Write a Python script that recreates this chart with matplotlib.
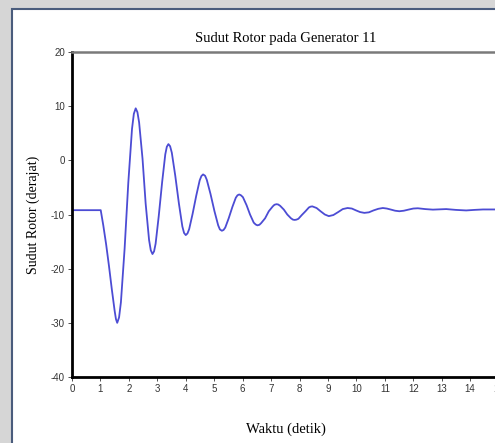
import matplotlib.pyplot as plt
from matplotlib.patches import Rectangle

# waktu (detik) dan sudut rotor (derajat)
waktu = [0, 1.01, 1.1, 1.2, 1.3, 1.4, 1.5, 1.545, 1.59, 1.655, 1.72, 1.85,
         1.98, 2.11, 2.175, 2.24, 2.30, 2.36, 2.48, 2.59, 2.71, 2.77, 2.83,
         2.886, 2.94, 3.05, 3.17, 3.28, 3.334, 3.39, 3.45, 3.51, 3.63, 3.76,
         3.88, 3.94, 4.0, 4.06, 4.12, 4.24, 4.37, 4.49, 4.55, 4.61, 4.68, 4.74,
         4.87, 5.01, 5.14, 5.20, 5.27, 5.33, 5.39, 5.51, 5.64, 5.76, 5.82, 5.88,
         5.94, 6.01, 6.14, 6.26, 6.39, 6.46, 6.52, 6.59, 6.65, 6.79, 6.92, 7.06,
         7.12, 7.19, 7.25, 7.32, 7.45, 7.57, 7.70, 7.77, 7.83, 7.89, 7.96, 8.08,
         8.21, 8.33, 8.39, 8.45, 8.6, 8.74, 8.89, 9.03, 9.19, 9.36, 9.52, 9.69,
         9.84, 9.99, 10.13, 10.28, 10.44, 10.6, 10.77, 10.93, 11.07, 11.22,
         11.36, 11.51, 11.67, 11.83, 12.0, 12.16, 12.42, 12.69, 12.92, 13.16,
         13.5, 13.86, 14.15, 14.45, 15.0]
sudut = [-9.2, -9.2, -12.0, -15.5, -19.5, -23.8, -27.8, -29.3, -30.0, -29.0,
         -26.2, -16.3, -4.1, 5.8, 8.6, 9.6, 8.9, 7.0, 0.3, -8.0, -14.7, -16.6,
         -17.3, -16.8, -15.4, -10.3, -4.0, 1.1, 2.5, 3.0, 2.6, 1.4, -2.8, -8.0,
         -12.2, -13.4, -13.8, -13.5, -12.7, -9.9, -6.5, -3.7, -2.9, -2.6, -2.85,
         -3.6, -6.2, -9.4, -12.0, -12.75, -13.0, -12.85, -12.4, -10.7, -8.6,
         -6.9, -6.45, -6.3, -6.45, -6.8, -8.3, -10.0, -11.5, -11.85, -12.0,
         -11.9, -11.6, -10.7, -9.4, -8.5, -8.2, -8.1, -8.15, -8.4, -9.1, -10.0,
         -10.7, -10.95, -11.0, -10.95, -10.8, -10.1, -9.4, -8.7, -8.55, -8.5,
         -8.8, -9.4, -10.0, -10.3, -10.1, -9.55, -9.0, -8.8, -8.9, -9.25, -9.55,
         -9.7, -9.6, -9.25, -8.95, -8.8, -8.9, -9.1, -9.3, -9.4, -9.3, -9.1,
         -8.9, -8.85, -9.0, -9.1, -9.05, -9.0, -9.15, -9.25, -9.15, -9.07, -9.07]

xticks = list(range(0, 16))
yticks = [-40, -30, -20, -10, 0, 10, 20]


def main():
    plt.rcParams["axes.unicode_minus"] = False
    fig = plt.figure(figsize=(4.95, 4.43), dpi=100, facecolor="#d6d6d6")
    panel = Rectangle((12 / 495, -0.02), 1.0, 1 - 9 / 443 + 0.02,
                      transform=fig.transFigure, facecolor="white",
                      edgecolor="#4a5c7c", linewidth=1.5, zorder=-10)
    fig.patches.append(panel)

    ax = fig.add_axes([72 / 495, 1 - 377 / 443, 428 / 495, 325 / 443])
    ax.patch.set_alpha(0)
    ax.plot(waktu, sudut, color="#4c4cd4", linewidth=1.3)
    ax.set_xlim(0, 15.05)
    ax.set_ylim(-40, 20)
    ax.set_xticks(xticks)
    ax.set_yticks(yticks)
    ax.tick_params(labelsize=7, colors="#333333", length=3, width=0.6, pad=2)
    for lbl in ax.get_xticklabels() + ax.get_yticklabels():
        lbl.set_family("Liberation Sans")

    ax.spines["left"].set_linewidth(2)
    ax.spines["bottom"].set_linewidth(2)
    ax.spines["top"].set_linewidth(1.8)
    ax.spines["top"].set_color("#7a7a7a")
    ax.spines["right"].set_visible(False)

    serif = "Liberation Serif"
    ax.set_title("Sudut Rotor pada Generator 11", family=serif, fontsize=10.5, pad=7)
    ax.set_xlabel("Waktu (detik)", family=serif, fontsize=10.5)
    ax.set_ylabel("Sudut Rotor (derajat)", family=serif, fontsize=10)
    ax.xaxis.set_label_coords(0.5, -0.14)
    ax.yaxis.set_label_coords(-0.074, 0.5)

    fig.savefig("out.png", dpi=100, facecolor=fig.get_facecolor())


if __name__ == "__main__":
    main()
